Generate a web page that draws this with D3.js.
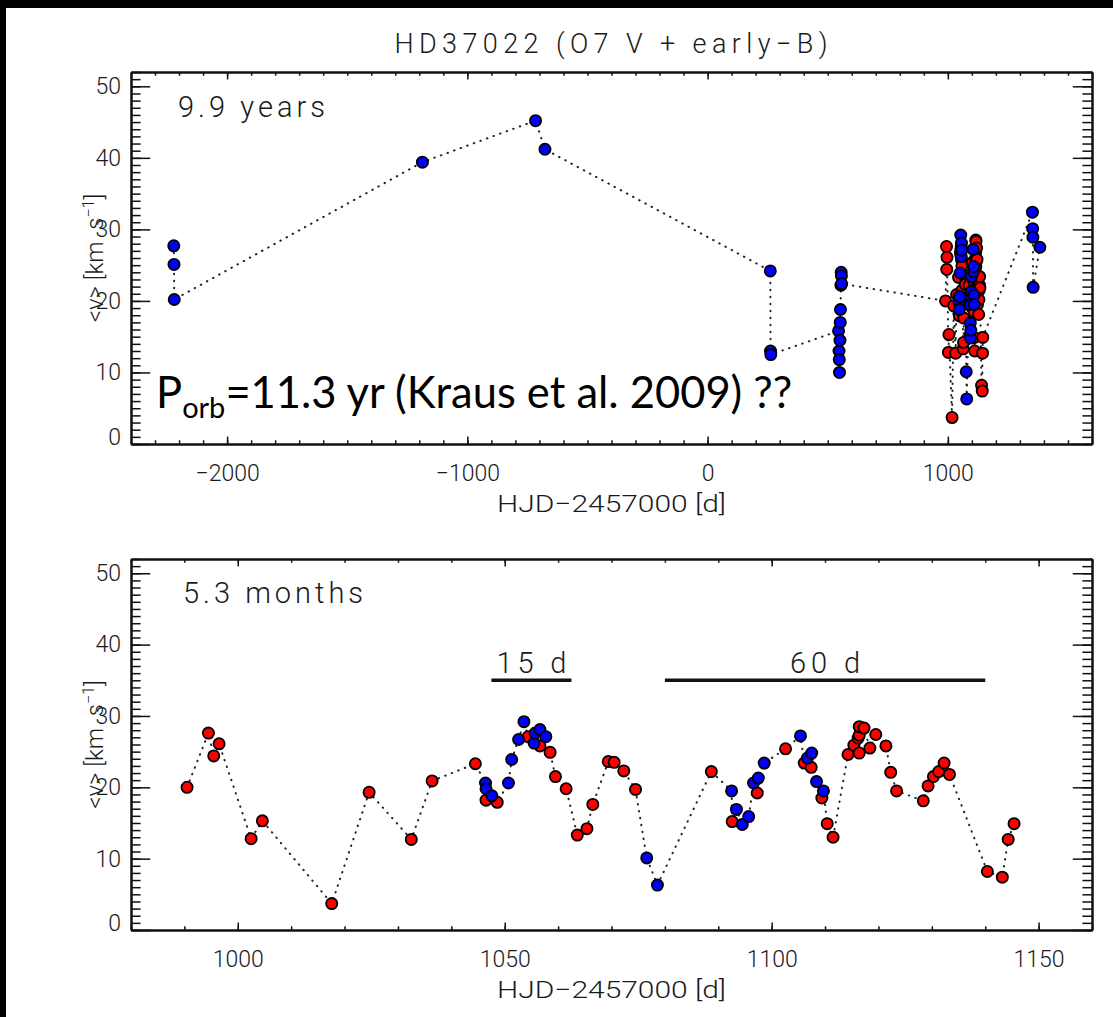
<!DOCTYPE html>
<html>
<head>
<meta charset="utf-8">
<script src="https://cdn.jsdelivr.net/npm/d3@7"></script>
<style>
  body { margin: 0; background: #000; }
  svg { display: block; }
  .idl { font-family: Roboto, "DejaVu Sans", sans-serif; font-weight: 300; fill: #1a1a1a; }
</style>
</head>
<body>
<div id="chart"></div>
<script>
// ---- data -------------------------------------------------------------
// 2017 campaign (lower panel, also part of the upper panel)
var campDays = [990.5, 994.5, 995.5, 996.5, 1002.5, 1004.6, 1017.6, 1024.6, 1032.5, 1036.4,
  1044.5, 1046.4, 1046.5, 1046.5, 1047.6, 1048.6, 1050.7, 1051.3, 1052.6, 1053.6,
  1054.4, 1055.5, 1055.7, 1056.6, 1056.6, 1057.7, 1058.5, 1059.5, 1061.5, 1063.6,
  1065.4, 1066.5, 1069.4, 1070.5, 1072.3, 1074.5, 1076.6, 1078.6, 1088.7, 1092.5,
  1092.6, 1093.4, 1094.5, 1095.7, 1096.6, 1097.3, 1097.5, 1098.6, 1102.6, 1105.4,
  1106.1, 1106.7, 1107.4, 1107.5, 1108.4, 1109.4, 1109.7, 1110.4, 1111.5, 1114.3,
  1115.4, 1116.2, 1116.4, 1116.4, 1116.4, 1117.3, 1118.4, 1119.5, 1121.4, 1122.3,
  1123.4, 1128.4, 1129.3, 1130.3, 1131.3, 1132.3, 1133.3, 1140.4, 1143.2, 1144.3,
  1145.4];
var campVel = [20.0, 27.6, 24.4, 26.1, 12.8, 15.3, 3.7, 19.3, 12.7, 20.9,
  23.3, 20.6, 19.8, 18.2, 18.8, 17.9, 20.6, 23.9, 26.7, 29.2,
  27.1, 26.2, 27.6, 28.1, 25.8, 27.1, 24.9, 21.5, 19.8, 13.3,
  14.2, 17.6, 23.6, 23.5, 22.3, 19.7, 10.1, 6.3, 22.2, 19.5,
  15.2, 16.9, 14.8, 15.9, 20.6, 19.2, 21.3, 23.4, 25.4, 27.2,
  23.4, 24.1, 22.8, 24.8, 20.8, 18.5, 19.5, 14.9, 13.0, 24.6,
  25.9, 26.9, 24.8, 27.3, 28.5, 28.3, 25.5, 27.4, 25.8, 22.1,
  19.5, 18.1, 20.2, 21.5, 22.2, 23.4, 21.8, 8.2, 7.4, 12.7,
  14.9];
// r = red spectra, b = blue spectra
var campSrc = ("rrrrrrrrrrr" + "bbrbrbbbbrbbbrb" + "rrrrrrrrrr" +
  "bbrbrbbbbrbbrbrbrbbrb" + "rrrrrrrrrrrrrrrrrrrrrrrr").split("");

// earlier epochs (upper panel only, all blue)
var earlyDays = [-2222, -2221, -2220, -1187, -716, -677, 261, 262, 263,
  545, 547, 548, 549, 551, 552, 553, 555, 556, 557, 558];
var earlyVel = [27.7, 25.1, 20.2, 39.4, 45.2, 41.2, 24.2, 13.0, 12.5,
  15.8, 13.0, 11.8, 10.0, 14.5, 17.0, 18.8, 22.2, 24.0, 23.5, 22.4];

// later epochs (upper panel only, all blue)
var lateDays = [1352, 1353, 1354, 1355, 1383];
var lateVel = [32.4, 30.1, 28.9, 21.9, 27.5];

// period bars in the lower panel
var barStart = [1047.5, 1080];
var barEnd = [1062.5, 1140];
var barText = ["15  d", "60  d"];
var barLevel = 35;

var yMajor = [0, 10, 20, 30, 40, 50];
var topMajor = [-2000, -1000, 0, 1000];
var bottomMajor = [1000, 1050, 1100, 1150];

// ---- drawing ----------------------------------------------------------
var width = 1113;
var height = 1017;
var left = 131, right = 1092;

var svg = d3.select("#chart").append("svg")
    .attr("width", width)
    .attr("height", height);

svg.append("rect").attr("width", width).attr("height", height).attr("fill", "#000");
svg.append("rect").attr("x", 6).attr("y", 8)
    .attr("width", width - 6).attr("height", height - 8).attr("fill", "#fff");

var colors = { r: "#ff0000", b: "#0000ff" };
var fmt = d => (d < 0 ? "\u2212" : "") + Math.abs(d);

function makeRows(days, vel, src) {
  return days.map((d, i) => ({ t: d, v: vel[i], c: src ? src[i] : "b" }));
}

function styleAxis(g, fontSize) {
  g.select(".domain").attr("stroke", "#111").attr("stroke-width", 2);
  g.selectAll(".tick line").attr("stroke", "#111").attr("stroke-width", 1.5);
  g.selectAll(".tick text").attr("class", "idl").attr("font-size", fontSize);
}

function drawPanel(p) {
  var x = d3.scaleLinear().domain(p.xDomain).range([left, right]);
  var y = d3.scaleLinear().domain([0, 52]).range([p.bottom, p.top]);
  var h = p.bottom - p.top;
  var xLen = h * 0.02, yLen = (right - left) * 0.02;
  var g = svg.append("g");

  // minor ticks on all four sides
  g.append("g").attr("transform", `translate(0,${p.bottom})`)
    .call(d3.axisBottom(x).tickValues(p.xMinor).tickSize(-xLen / 2).tickSizeOuter(0).tickFormat(""))
    .call(styleAxis);
  g.append("g").attr("transform", `translate(0,${p.top})`)
    .call(d3.axisTop(x).tickValues(p.xMinor).tickSize(-xLen / 2).tickSizeOuter(0).tickFormat(""))
    .call(styleAxis);
  g.append("g").attr("transform", `translate(${left},0)`)
    .call(d3.axisLeft(y).tickValues(d3.range(0, 53)).tickSize(-yLen / 2).tickSizeOuter(0).tickFormat(""))
    .call(styleAxis);
  g.append("g").attr("transform", `translate(${right},0)`)
    .call(d3.axisRight(y).tickValues(d3.range(0, 53)).tickSize(-yLen / 2).tickSizeOuter(0).tickFormat(""))
    .call(styleAxis);

  // major ticks with labels
  g.append("g").attr("transform", `translate(0,${p.bottom})`)
    .call(d3.axisBottom(x).tickValues(p.xMajor).tickSize(-xLen).tickSizeOuter(0)
      .tickPadding(21).tickFormat(fmt))
    .call(g2 => styleAxis(g2, 23));
  g.append("g").attr("transform", `translate(0,${p.top})`)
    .call(d3.axisTop(x).tickValues(p.xMajor).tickSize(-xLen).tickSizeOuter(0).tickFormat(""))
    .call(styleAxis);
  var ya = g.append("g").attr("transform", `translate(${left},0)`)
    .call(d3.axisLeft(y).tickValues(yMajor).tickSize(-yLen).tickSizeOuter(0)
      .tickPadding(10).tickFormat(fmt))
    .call(g2 => styleAxis(g2, 23));
  // IDL lifts the lowest label off the x axis
  ya.selectAll(".tick text").filter(d => d === 0).attr("y", -7);
  g.append("g").attr("transform", `translate(${right},0)`)
    .call(d3.axisRight(y).tickValues(yMajor).tickSize(-yLen).tickSizeOuter(0).tickFormat(""))
    .call(styleAxis);

  // dotted connecting line, in time order
  var line = d3.line().x(d => x(d.t)).y(d => y(d.v));
  g.append("path")
    .datum(p.rows)
    .attr("d", line)
    .attr("fill", "none")
    .attr("stroke", "#222")
    .attr("stroke-width", 2)
    .attr("stroke-linecap", "round")
    .attr("stroke-dasharray", "0.5 6.5");

  // red first, blue on top
  var ordered = p.rows.filter(d => d.c === "r").concat(p.rows.filter(d => d.c === "b"));
  g.selectAll("circle.pt")
    .data(ordered)
    .enter()
    .append("circle")
      .attr("class", "pt")
      .attr("cx", d => x(d.t))
      .attr("cy", d => y(d.v))
      .attr("r", 5.6)
      .attr("fill", d => colors[d.c])
      .attr("stroke", "#000")
      .attr("stroke-width", 1.8);

  // x title
  g.append("text").attr("class", "idl")
    .attr("x", (left + right) / 2).attr("y", p.bottom + 68)
    .attr("text-anchor", "middle").attr("font-size", 24)
    .attr("textLength", 229).attr("lengthAdjust", "spacingAndGlyphs")
    .text("HJD\u22122457000 [d]");

  // y title
  var yt = g.append("text").attr("class", "idl")
    .attr("transform", `translate(103,${(p.top + p.bottom) / 2}) rotate(-90)`)
    .attr("text-anchor", "middle").attr("font-size", 24)
    .attr("xml:space", "preserve");
  yt.append("tspan").text("<v> [km  s");
  yt.append("tspan").attr("font-size", 16).attr("dy", -9).text("\u22121");
  yt.append("tspan").attr("dy", 9).text("]");

  // panel label
  g.append("text").attr("class", "idl")
    .attr("x", p.labelX).attr("y", p.top + p.labelDy)
    .attr("font-size", 29)
    .attr("textLength", p.labelLen).attr("lengthAdjust", "spacing")
    .text(p.label);

  return { g: g, x: x, y: y };
}

var topRows = makeRows(earlyDays, earlyVel)
  .concat(makeRows(campDays, campVel, campSrc))
  .concat(makeRows(lateDays, lateVel));

var topPanel = drawPanel({
  top: 72, bottom: 444,
  xDomain: [-2400, 1600],
  xMajor: topMajor,
  xMinor: d3.range(-2400, 1601, 100),
  rows: topRows,
  label: "9.9  years", labelX: 178, labelDy: 45, labelLen: 147
});

var botPanel = drawPanel({
  top: 559, bottom: 930,
  xDomain: [980, 1160],
  xMajor: bottomMajor,
  xMinor: d3.range(980, 1161, 10),
  rows: makeRows(campDays, campVel, campSrc),
  label: "5.3  months", labelX: 183, labelDy: 44, labelLen: 180
});

// title
svg.append("text").attr("class", "idl")
  .attr("x", 611).attr("y", 53)
  .attr("text-anchor", "middle").attr("font-size", 27)
  .attr("textLength", 433).attr("lengthAdjust", "spacing")
  .text("HD37022 (O7 V + early\u2212B)");

// period bars
barStart.forEach(function(s, i) {
  var bx = botPanel.x, by = botPanel.y;
  botPanel.g.append("line")
    .attr("x1", bx(s)).attr("x2", bx(barEnd[i]))
    .attr("y1", by(barLevel)).attr("y2", by(barLevel))
    .attr("stroke", "#111").attr("stroke-width", 3.5);
  botPanel.g.append("text").attr("class", "idl")
    .attr("x", (bx(s) + bx(barEnd[i])) / 2).attr("y", by(barLevel) - 7)
    .attr("text-anchor", "middle").attr("font-size", 29)
    .attr("textLength", 70).attr("lengthAdjust", "spacing")
    .text(barText[i]);
});

// orbital period note
var note = svg.append("text")
  .attr("x", 156).attr("y", 408)
  .attr("font-family", "Lato, 'Open Sans', sans-serif")
  .attr("font-size", 43.5).attr("fill", "#000");
note.append("tspan").text("P");
note.append("tspan").attr("font-size", 29).attr("dy", 10).text("orb");
note.append("tspan").attr("dy", -10).text("=11.3 yr (Kraus et al. 2009) ??");
</script>
</body>
</html>
